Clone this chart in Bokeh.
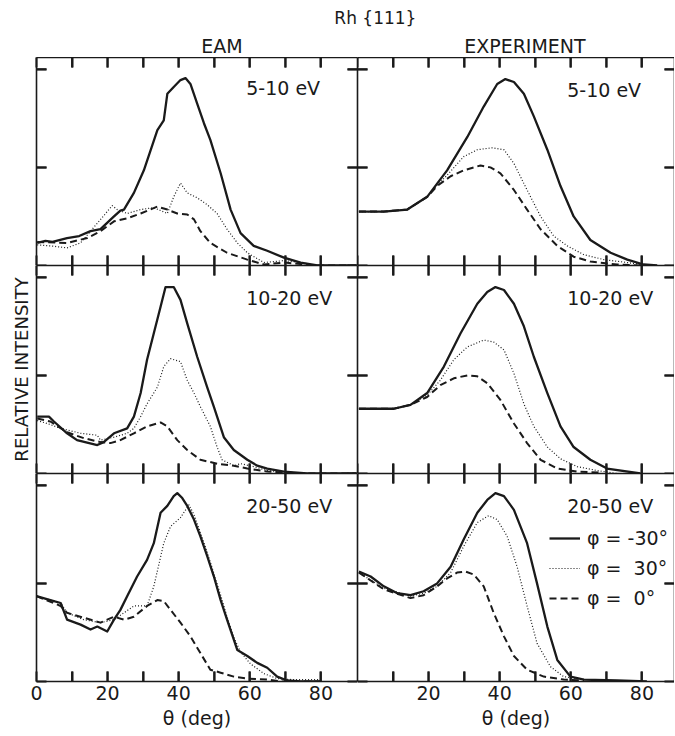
from bokeh.plotting import figure
from bokeh.models import (GridPlot, Label, FixedTicker, LinearAxis, Range1d,
                          Legend, LegendItem, Toolbar)
from bokeh.embed import file_html
from bokeh.resources import INLINE

# ---------------------------------------------------------------- data
title_text = "Rh {111}"
column_titles = ["EAM", "EXPERIMENT"]
energy_labels = ["5-10 eV", "10-20 eV", "20-50 eV"]
legend_labels = ["\u03c6 = -30\u00b0", "\u03c6 =  30\u00b0", "\u03c6 =  0\u00b0"]
x_label = "\u03b8 (deg)"
y_label = "RELATIVE INTENSITY"

# EAM 5-10 eV
eam1_th_m30 = [0.2, 2.5, 4.5, 8.6, 12.0, 15.2, 18, 21.8, 23.6, 24.6, 27.4, 30.2, 34, 35.8, 36.8, 38.6, 40.5,
               41.9, 43.3, 45.2, 47.1, 48.9, 51.8, 54.6, 57.4, 61.1, 64.9, 69.6, 74.3, 79, 90]
eam1_m30 = [0.23, 0.25, 0.24, 0.28, 0.30, 0.35, 0.37, 0.50, 0.56, 0.57, 0.74, 0.97, 1.38, 1.48, 1.75, 1.82, 1.89,
            1.91, 1.85, 1.65, 1.45, 1.28, 0.94, 0.57, 0.33, 0.20, 0.15, 0.08, 0.03, 0.0, 0.0]
eam1_th_p30 = [0.2, 3.9, 8.6, 12.4, 17.1, 21.3, 22.7, 25.5, 29.3, 33, 36.8, 38.6, 40.5, 42.4, 45.2, 48, 50.8,
               53.6, 56.5, 59.3, 64, 69.6, 74.3, 79, 90]
eam1_p30 = [0.21, 0.20, 0.18, 0.23, 0.43, 0.61, 0.57, 0.53, 0.57, 0.59, 0.53, 0.70, 0.84, 0.74, 0.69, 0.62, 0.53,
            0.37, 0.23, 0.13, 0.03, 0.05, 0.03, 0.0, 0.0]
eam1_th_0 = [0.2, 8.6, 14.3, 18, 21.8, 25.5, 29.3, 34, 36.8, 39.6, 42.4, 44.3, 46.1, 48.9, 53.6, 59.3, 64,
             69.6, 79, 90]
eam1_0 = [0.24, 0.23, 0.28, 0.35, 0.45, 0.48, 0.53, 0.60, 0.57, 0.53, 0.52, 0.47, 0.35, 0.23, 0.13, 0.06, 0.01,
          0.03, 0.0, 0.0]

# EAM 10-20 eV
eam2_th_m30 = [0.2, 3.5, 4.9, 8.6, 11.4, 17.1, 18.9, 21.8, 25.5, 27.4, 29.3, 31.1, 33, 34.9, 36.3, 38.6, 40.5,
               42.4, 45.2, 48, 49.9, 52.7, 55.5, 59.3, 62.1, 64.9, 69.6, 76.1, 90]
eam2_m30 = [0.58, 0.58, 0.53, 0.41, 0.34, 0.29, 0.32, 0.41, 0.46, 0.58, 0.82, 1.16, 1.43, 1.70, 1.90, 1.90, 1.77,
            1.53, 1.19, 0.88, 0.68, 0.37, 0.24, 0.14, 0.08, 0.05, 0.02, 0.0, 0.0]
eam2_th_p30 = [0.2, 3, 6.8, 12.4, 17.1, 18, 21.8, 25.5, 27.4, 29.3, 31.1, 34, 35.8, 37.7, 40.5, 42.4, 44.3,
               46.1, 48.9, 50.8, 52.2, 55.5, 57.4, 61.1, 64.9, 74.3, 90]
eam2_p30 = [0.54, 0.51, 0.46, 0.41, 0.39, 0.34, 0.37, 0.41, 0.46, 0.58, 0.71, 0.88, 1.09, 1.17, 1.14, 0.95, 0.82,
            0.68, 0.48, 0.27, 0.14, 0.08, 0.10, 0.07, 0.03, 0.0, 0.0]
eam2_th_0 = [0.2, 3.9, 8.6, 13.3, 18, 20.8, 23.6, 27.4, 31.1, 34.9, 36.8, 39.6, 42.4, 46.1, 50.8, 55.5, 59.3,
             64.9, 74.3, 90]
eam2_0 = [0.56, 0.53, 0.42, 0.36, 0.32, 0.31, 0.34, 0.41, 0.48, 0.52, 0.48, 0.34, 0.24, 0.14, 0.10, 0.08, 0.05,
          0.02, 0.0, 0.0]

# EAM 20-50 eV
eam3_th_m30 = [0, 3.9, 6.8, 8.6, 12.4, 15.2, 17.1, 19.9, 21.8, 23.6, 25.5, 28.3, 31.1, 33, 34.9, 36.8, 38.6,
               39.6, 41, 42.4, 44.3, 46.1, 48, 49.9, 51.8, 53.6, 56.5, 59.3, 62.1, 64.9, 67.7, 70.5, 74.3, 80]
eam3_m30 = [0.87, 0.83, 0.80, 0.63, 0.58, 0.53, 0.56, 0.51, 0.63, 0.73, 0.87, 1.07, 1.24, 1.41, 1.72, 1.79, 1.89,
            1.92, 1.87, 1.79, 1.65, 1.48, 1.28, 1.07, 0.83, 0.63, 0.32, 0.26, 0.19, 0.14, 0.05, 0.01, 0.0, 0.0]
eam3_th_p30 = [0, 6.8, 8.6, 13.3, 18, 21.8, 24.6, 27.4, 31.1, 33, 35.8, 37.7, 40.5, 42.9, 44.3, 46.1, 48,
               49.9, 51.8, 53.6, 55.5, 57.4, 60.2, 64, 67.7, 71.6, 80]
eam3_p30 = [0.87, 0.80, 0.70, 0.63, 0.60, 0.63, 0.70, 0.77, 0.77, 0.97, 1.41, 1.58, 1.67, 1.80, 1.70, 1.52, 1.32,
            1.10, 0.88, 0.66, 0.45, 0.30, 0.18, 0.08, 0.03, 0.02, 0.02]
eam3_th_0 = [0, 6.8, 8.6, 13.3, 18, 21.8, 24.6, 27.4, 31.1, 34, 35.8, 37.7, 40.5, 43.3, 46.1, 48.9, 51.8,
             55.5, 59.3, 64.9, 68.7, 80]
eam3_0 = [0.87, 0.77, 0.70, 0.65, 0.60, 0.66, 0.63, 0.66, 0.77, 0.83, 0.82, 0.73, 0.60, 0.46, 0.29, 0.12, 0.09,
          0.05, 0.03, 0.02, 0.0, 0.0]

# Experiment 5-10 eV
exp1_th_m30 = [0.4, 7.4, 14, 19.6, 25.2, 30.9, 35.5, 39.3, 41.6, 44, 46.8, 49.6, 53.4, 57.1, 60.8, 65.5,
               71.2, 75.9, 80.5, 84.3]
exp1_m30 = [0.55, 0.55, 0.57, 0.70, 0.97, 1.31, 1.62, 1.85, 1.90, 1.87, 1.75, 1.52, 1.18, 0.81, 0.50, 0.26,
            0.13, 0.06, 0.01, 0.0]
exp1_th_p30 = [0.4, 7.4, 14, 19.6, 22.4, 25.2, 29.9, 33.7, 37.9, 41.2, 44, 47.7, 51.5, 55.2, 59, 63.7,
               69.3, 75.9, 82.4]
exp1_p30 = [0.55, 0.55, 0.57, 0.70, 0.82, 0.92, 1.11, 1.18, 1.20, 1.18, 1.04, 0.77, 0.50, 0.30, 0.20, 0.11,
            0.06, 0.03, 0.0]
exp1_th_0 = [0.4, 7.4, 14, 19.6, 22.4, 26.2, 29.9, 34.6, 37.4, 40.2, 44, 47.7, 51.5, 56.2, 60.8, 65.5,
             73, 80.5]
exp1_0 = [0.55, 0.55, 0.57, 0.70, 0.81, 0.91, 0.97, 1.02, 1.00, 0.94, 0.77, 0.57, 0.37, 0.20, 0.09, 0.04,
          0.01, 0.0]

# Experiment 10-20 eV
exp2_th_m30 = [0.4, 10.2, 14.9, 19.6, 24.3, 29, 33.7, 36.5, 38.8, 41.2, 44, 46.8, 49.6, 53.4, 57.1, 60.8,
               65.5, 70.2, 79.6]
exp2_m30 = [0.66, 0.66, 0.70, 0.82, 1.09, 1.43, 1.73, 1.85, 1.90, 1.87, 1.73, 1.50, 1.19, 0.82, 0.48, 0.27,
            0.14, 0.05, 0.0]
exp2_th_p30 = [0.4, 10.2, 14.9, 19.6, 23.3, 27.1, 30.9, 35.5, 38.3, 41.2, 44, 46.8, 49.6, 53.4, 57.1, 61.8,
               67.4, 73]
exp2_p30 = [0.66, 0.66, 0.70, 0.80, 0.95, 1.16, 1.29, 1.36, 1.34, 1.26, 1.02, 0.71, 0.48, 0.27, 0.15, 0.07,
            0.03, 0.0]
exp2_th_0 = [0.4, 10.2, 14.9, 19.6, 23.3, 27.1, 30.9, 33.7, 36.5, 40.2, 44, 47.7, 51.5, 56.2, 61.8, 68.4]
exp2_0 = [0.66, 0.66, 0.70, 0.78, 0.90, 0.97, 1.00, 0.99, 0.92, 0.75, 0.51, 0.31, 0.14, 0.05, 0.02, 0.01]

# Experiment 20-50 eV
exp3_th_m30 = [0.4, 3.7, 7.4, 11.2, 14.9, 18.6, 22.4, 26.2, 29.9, 33.7, 36.5, 38.8, 41.2, 44, 47.7, 50.5,
               53.4, 56.2, 59.9, 63.7, 73, 81.4]
exp3_m30 = [1.12, 1.07, 0.97, 0.90, 0.88, 0.92, 1.00, 1.17, 1.45, 1.72, 1.85, 1.92, 1.89, 1.75, 1.41, 1.00,
            0.56, 0.22, 0.05, 0.02, 0.01, 0.0]
exp3_th_p30 = [0.4, 7.4, 14.9, 18.6, 22.4, 26.2, 29.9, 33.7, 36.9, 39.3, 42.1, 44.9, 47.7, 50.5, 54.3, 58, 63.7]
exp3_p30 = [1.11, 0.95, 0.87, 0.90, 0.97, 1.11, 1.38, 1.62, 1.69, 1.65, 1.48, 1.17, 0.77, 0.39, 0.15, 0.05, 0.02]
exp3_th_0 = [0.4, 7.4, 14.9, 18.6, 22.4, 25.2, 28, 30.4, 32.7, 35.5, 38.3, 41.2, 44, 47.7, 52.4, 58, 63.7]
exp3_0 = [1.11, 0.94, 0.85, 0.88, 0.97, 1.05, 1.11, 1.12, 1.09, 0.97, 0.70, 0.46, 0.26, 0.12, 0.05, 0.02, 0.01]

x_major_left = [0, 20, 40, 60, 80]
x_major_right = [20, 40, 60, 80]
x_minor = [10, 30, 50, 70]
x_tick_marks = [10, 20, 30, 40, 50, 60, 70, 80]
y_ticks = [0, 1, 2]
y_tick_marks = [1, 2]

# ---------------------------------------------------------------- style
FONT = "DejaVu Sans"
INK = "#1a1a1a"
PX_PER_DEG = 3.555
FRAME_H = 208
FRAME_W = [321, 317]
Y_MAX = 2.12
LEFT_PAD = 36
TOP_PAD = 57
BOTTOM_PAD = 55
TOTAL_W = LEFT_PAD + FRAME_W[0] + FRAME_W[1]
TICK_PX = 10
TICK_W = 2

STYLES = [dict(line_width=2.3, line_dash="solid"),
          dict(line_width=1.2, line_dash="1 2"),
          dict(line_width=2.0, line_dash="7 4")]

grid_data = [
    [[(eam1_th_m30, eam1_m30), (eam1_th_p30, eam1_p30), (eam1_th_0, eam1_0)],
     [(exp1_th_m30, exp1_m30), (exp1_th_p30, exp1_p30), (exp1_th_0, exp1_0)]],
    [[(eam2_th_m30, eam2_m30), (eam2_th_p30, eam2_p30), (eam2_th_0, eam2_0)],
     [(exp2_th_m30, exp2_m30), (exp2_th_p30, exp2_p30), (exp2_th_0, exp2_0)]],
    [[(eam3_th_m30, eam3_m30), (eam3_th_p30, eam3_p30), (eam3_th_0, eam3_0)],
     [(exp3_th_m30, exp3_m30), (exp3_th_p30, exp3_p30), (exp3_th_0, exp3_0)]],
]


def make_axis(major, minor, show_labels=False):
    ax = LinearAxis(ticker=FixedTicker(ticks=major, minor_ticks=minor))
    ax.axis_line_color = INK
    ax.axis_line_width = 1.6
    ax.major_tick_line_color = INK
    ax.minor_tick_line_color = INK
    ax.major_tick_line_width = TICK_W
    ax.minor_tick_line_width = TICK_W
    ax.major_tick_in = TICK_PX
    ax.major_tick_out = 0
    ax.minor_tick_in = TICK_PX
    ax.minor_tick_out = 0
    if show_labels:
        ax.major_label_text_font = FONT
        ax.major_label_text_font_size = "19px"
        ax.major_label_text_color = INK
        ax.major_label_standoff = 4
    else:
        ax.major_label_text_color = None
        ax.major_label_standoff = 0
    return ax


def bare_figure(**kw):
    f = figure(x_axis_location=None, y_axis_location=None, output_backend="svg",
               toolbar_location=None, min_border=0, outline_line_color=None,
               background_fill_color="white", border_fill_color="white", **kw)
    f.grid.grid_line_color = None
    return f


children = []

# header with title and column headings
header = bare_figure(width=TOTAL_W, height=TOP_PAD,
                     x_range=Range1d(0, TOTAL_W), y_range=Range1d(0, TOP_PAD))
header.add_layout(Label(x=358, y=TOP_PAD - 17, text=title_text, text_align="center", text_baseline="middle",
                        text_font=FONT, text_font_size="17px", text_color=INK))
header.add_layout(Label(x=196, y=TOP_PAD - 45, text=column_titles[0], text_align="center",
                        text_baseline="middle", text_font=FONT, text_font_size="19px", text_color=INK))
header.add_layout(Label(x=516, y=TOP_PAD - 45, text=column_titles[1], text_align="center",
                        text_baseline="middle", text_font=FONT, text_font_size="19px", text_color=INK))
children.append((header, 0, 0, 1, 2))

dy_tick = TICK_PX * Y_MAX / FRAME_H
dx_tick = TICK_PX / PX_PER_DEG

for r in range(3):
    for c in range(2):
        fw = FRAME_W[c]
        x_end = fw / PX_PER_DEG
        p = bare_figure(frame_width=fw, frame_height=FRAME_H,
                        x_range=Range1d(0, x_end), y_range=Range1d(0, Y_MAX),
                        min_border_left=LEFT_PAD if c == 0 else 0,
                        min_border_bottom=BOTTOM_PAD if r == 2 else 0)
        left = make_axis(y_ticks, [])
        if c == 0 and r == 1:
            left.axis_label = y_label
            left.axis_label_text_font = FONT
            left.axis_label_text_font_size = "18px"
            left.axis_label_text_font_style = "normal"
            left.axis_label_text_color = INK
            left.axis_label_standoff = 5
        p.add_layout(left, "left")
        p.add_layout(make_axis(y_ticks, []), "right")
        p.add_layout(make_axis(x_major_left, x_minor), "above")
        if r == 2:
            bottom = make_axis(x_major_left if c == 0 else x_major_right, x_minor, show_labels=True)
            bottom.axis_label = x_label
            bottom.axis_label_text_font = FONT
            bottom.axis_label_text_font_size = "19px"
            bottom.axis_label_text_font_style = "normal"
            bottom.axis_label_text_color = INK
            bottom.axis_label_standoff = 4
        else:
            bottom = make_axis(x_major_left, x_minor)
        p.add_layout(bottom, "below")

        # inward tick marks on all four frame edges, at the tick positions
        n = len(x_tick_marks)
        p.segment(x0=x_tick_marks, y0=[Y_MAX] * n, x1=x_tick_marks, y1=[Y_MAX - dy_tick] * n,
                  line_color=INK, line_width=TICK_W)
        p.segment(x0=x_tick_marks, y0=[0] * n, x1=x_tick_marks, y1=[dy_tick] * n,
                  line_color=INK, line_width=TICK_W)
        m = len(y_tick_marks)
        p.segment(x0=[0] * m, y0=y_tick_marks, x1=[dx_tick] * m, y1=y_tick_marks,
                  line_color=INK, line_width=TICK_W)
        p.segment(x0=[x_end] * m, y0=y_tick_marks, x1=[x_end - dx_tick] * m, y1=y_tick_marks,
                  line_color=INK, line_width=TICK_W)

        renderers = []
        for (th, y), st in zip(grid_data[r][c], STYLES):
            rr = p.line(th, y, line_color=INK, line_join="round", **st)
            renderers.append(rr)

        p.add_layout(Label(x=59, y=1.79 if not (r == 0 and c == 0) else 1.81,
                           text=energy_labels[r], text_baseline="middle",
                           text_font=FONT, text_font_size="19px", text_color=INK))

        if r == 2 and c == 1:
            legend = Legend(items=[LegendItem(label=lab, renderers=[rr])
                                   for lab, rr in zip(legend_labels, renderers)],
                            location=(192, 71), orientation="vertical",
                            glyph_width=31, glyph_height=24, label_height=24,
                            label_standoff=7, spacing=6, padding=0, margin=0,
                            border_line_color=None, background_fill_alpha=0,
                            label_text_font=FONT, label_text_font_size="19px",
                            label_text_color=INK)
            p.add_layout(legend)
        children.append((p, r + 1, c))

grid = GridPlot(children=children, toolbar=Toolbar(), toolbar_location=None)

open("out.html", "w").write(file_html(grid, INLINE))
